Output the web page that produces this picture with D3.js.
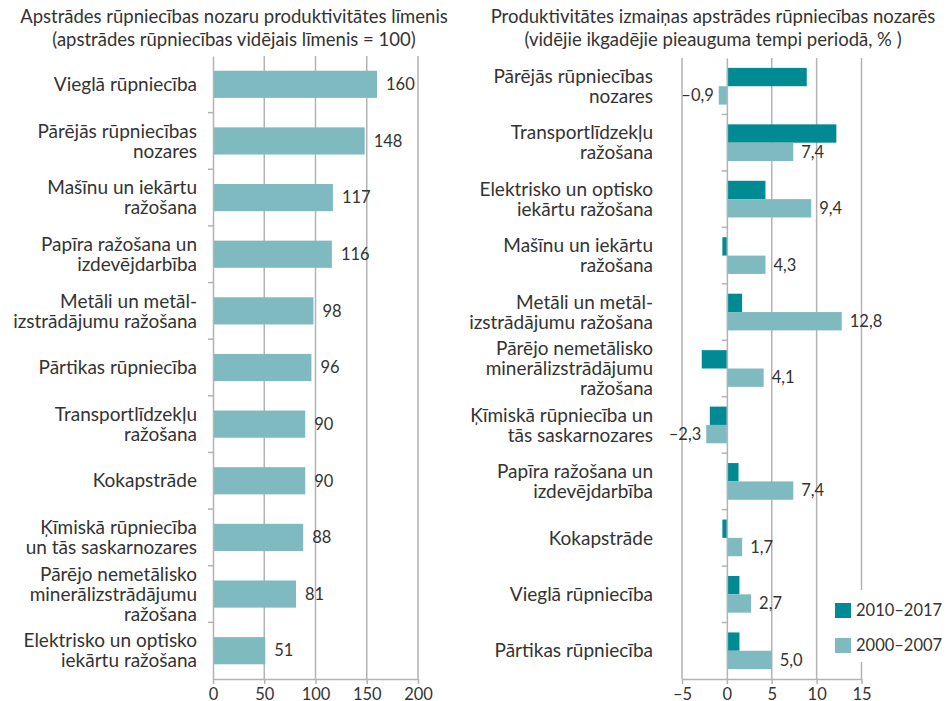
<!DOCTYPE html>
<html>
<head>
	<meta charset="UTF-8">
	<title>Apstrādes rūpniecības produktivitāte</title>
	<script src="https://cdn.jsdelivr.net/npm/d3@7"></script>
	<style>
		body {
			padding: 0;
			margin: 0;
			background: #fff;
		}
		text {
			font-family: Lato, "Noto Sans", sans-serif;
			fill: #333;
		}
	</style>
</head>
<body>
	<script>
		var w = 948,
			h = 701;

		// left chart: productivity level (average = 100)
		var levelCats = ["Vieglā rūpniecība", "Pārējās rūpniecības\nnozares", "Mašīnu un iekārtu\nražošana",
			"Papīra ražošana un\nizdevējdarbība", "Metāli un metāl-\nizstrādājumu ražošana", "Pārtikas rūpniecība",
			"Transportlīdzekļu\nražošana", "Kokapstrāde", "Ķīmiskā rūpniecība\nun tās saskarnozares",
			"Pārējo nemetālisko\nminerālizstrādājumu\nražošana", "Elektrisko un optisko\niekārtu ražošana"];
		var levelValues = [160, 148, 117, 116, 98, 96, 90, 90, 88, 81, 51];
		var levelTicks = [0, 50, 100, 150, 200];

		// right chart: average annual growth, %
		var growthCats = ["Pārējās rūpniecības\nnozares", "Transportlīdzekļu\nražošana", "Elektrisko un optisko\niekārtu ražošana",
			"Mašīnu un iekārtu\nražošana", "Metāli un metāl-\nizstrādājumu ražošana",
			"Pārējo nemetālisko\nminerālizstrādājumu\nražošana", "Ķīmiskā rūpniecība un\ntās saskarnozares",
			"Papīra ražošana un\nizdevējdarbība", "Kokapstrāde", "Vieglā rūpniecība", "Pārtikas rūpniecība"];
		var growth2010 = [8.9, 12.2, 4.3, -0.5, 1.7, -2.8, -1.9, 1.3, -0.5, 1.4, 1.4];
		var growth2000 = [-0.9, 7.4, 9.4, 4.3, 12.8, 4.1, -2.3, 7.4, 1.7, 2.7, 5.0];
		var growthTicks = [-5, 0, 5, 10, 15];
		var seriesNames = ["2010–2017", "2000–2007"];
		var seriesColors = ["#008b94", "#7fbac1"];

		var gridColor = "#b3b3b3";
		var lv = d3.formatLocale({decimal: ",", thousands: " ", grouping: [3], currency: ["", ""], minus: "–"});
		var fmt = lv.format(".1f");

		var svg = d3.select("body").append("svg")
			.attr("width", w)
			.attr("height", h);

		function multiLabel(g, txt, x, y, anchor) {
			var lines = txt.split("\n");
			var t = g.append("text")
				.attr("x", x)
				.attr("text-anchor", anchor)
				.style("font-size", "19px");
			lines.forEach(function (l, i) {
				t.append("tspan")
					.attr("x", x)
					.attr("y", y + (i - (lines.length - 1) / 2) * 20)
					.attr("dy", "0.35em")
					.text(l);
			});
		}

		function title(lines, cx) {
			lines.forEach(function (l, i) {
				svg.append("text")
					.attr("x", cx)
					.attr("y", 23 + i * 23)
					.attr("text-anchor", "middle")
					.style("font-size", "18.5px")
					.text(l);
			});
		}

		function styleAxis(ax) {
			ax.select(".domain").attr("stroke", gridColor).attr("stroke-width", 1.5);
			ax.selectAll(".tick line").attr("stroke", gridColor).attr("stroke-width", 1.5);
			ax.selectAll(".tick text").attr("fill", "#333").attr("y", 9).attr("dy", "0.71em")
				.style("font-size", "16.5px").style("font-family", "Lato, sans-serif");
		}

		// ---------- left chart ----------
		var top1 = 56, bot1 = 679;
		var x1 = d3.scaleLinear().domain([0, 200]).range([213, 418]);
		var y1 = d3.scaleBand().domain(levelCats).range([top1, bot1]).paddingInner(0.52).paddingOuter(0.26);

		title(["Apstrādes rūpniecības nozaru produktivitātes līmenis",
			"(apstrādes rūpniecības vidējais līmenis = 100)"], 234);

		var left = svg.append("g");
		left.selectAll("line.grid").data(levelTicks.slice(1)).enter().append("line")
			.attr("x1", d => x1(d)).attr("x2", d => x1(d))
			.attr("y1", top1).attr("y2", bot1)
			.attr("stroke", gridColor).attr("stroke-width", 1.5);

		left.selectAll("rect").data(levelValues).enter().append("rect")
			.attr("x", x1(0))
			.attr("y", (d, i) => y1(levelCats[i]))
			.attr("width", d => x1(d) - x1(0))
			.attr("height", y1.bandwidth())
			.attr("fill", seriesColors[1]);

		left.selectAll("text.val").data(levelValues).enter().append("text")
			.attr("class", "val")
			.attr("x", d => x1(d) + 9)
			.attr("y", (d, i) => y1(levelCats[i]) + y1.bandwidth() / 2)
			.attr("dy", "0.35em")
			.style("font-size", "16.5px")
			.text(d => d);

		var xAxis1 = left.append("g")
			.attr("transform", "translate(0," + bot1 + ")")
			.call(d3.axisBottom(x1).tickValues(levelTicks).tickSize(5).tickSizeOuter(0));
		styleAxis(xAxis1);

		var yAxis1 = left.append("g")
			.attr("transform", "translate(" + x1(0) + ",0)")
			.call(d3.axisLeft(y1).tickValues([]).tickSizeOuter(0));
		yAxis1.select(".domain").attr("stroke", gridColor).attr("stroke-width", 1.5);
		// band boundary ticks
		left.selectAll("line.bt").data(levelCats.slice(1)).enter().append("line")
			.attr("x1", x1(0) - 5).attr("x2", x1(0))
			.attr("y1", d => y1(d) - y1.step() * 0.26).attr("y2", d => y1(d) - y1.step() * 0.26)
			.attr("stroke", gridColor).attr("stroke-width", 1.5);

		levelCats.forEach(function (c) {
			multiLabel(left, c, 197, y1(c) + y1.bandwidth() / 2, "end");
		});

		// ---------- right chart ----------
		var top2 = 58, bot2 = 679;
		var x2 = d3.scaleLinear().domain([-5, 15]).range([682, 861.5]);
		var y2 = d3.scaleBand().domain(growthCats).range([top2, bot2]).paddingInner(0.35).paddingOuter(0.175);
		var ySub = d3.scaleBand().domain(seriesNames).range([0, y2.bandwidth()]);

		title(["Produktivitātes izmaiņas apstrādes rūpniecības nozarēs",
			"(vidējie ikgadējie pieauguma tempi periodā, % )"], 713);

		var right = svg.append("g");
		right.selectAll("line.grid").data(growthTicks.filter(d => d !== 0)).enter().append("line")
			.attr("x1", d => x2(d)).attr("x2", d => x2(d))
			.attr("y1", top2).attr("y2", bot2)
			.attr("stroke", gridColor).attr("stroke-width", 1.5);

		var allSeries = [growth2010, growth2000];
		allSeries.forEach(function (vals, s) {
			right.selectAll("rect.s" + s).data(vals).enter().append("rect")
				.attr("class", "s" + s)
				.attr("x", d => x2(Math.min(0, d)))
				.attr("y", (d, i) => y2(growthCats[i]) + ySub(seriesNames[s]))
				.attr("width", d => Math.abs(x2(d) - x2(0)))
				.attr("height", ySub.bandwidth())
				.attr("fill", seriesColors[s]);
		});

		right.selectAll("text.val").data(growth2000).enter().append("text")
			.attr("class", "val")
			.attr("x", d => d < 0 ? x2(d) - 5 : x2(d) + 8)
			.attr("y", (d, i) => y2(growthCats[i]) + ySub(seriesNames[1]) + ySub.bandwidth() / 2)
			.attr("dy", "0.35em")
			.attr("text-anchor", d => d < 0 ? "end" : "start")
			.style("font-size", "16.5px")
			.text(d => fmt(d));

		var xAxis2 = right.append("g")
			.attr("transform", "translate(0," + bot2 + ")")
			.call(d3.axisBottom(x2).tickValues(growthTicks).tickSize(5).tickSizeOuter(0).tickFormat(d => lv.format("d")(d)));
		styleAxis(xAxis2);

		var yAxis2 = right.append("g")
			.attr("transform", "translate(" + x2(0) + ",0)")
			.call(d3.axisLeft(y2).tickValues([]).tickSizeOuter(0));
		yAxis2.select(".domain").attr("stroke", gridColor).attr("stroke-width", 1.5);
		right.selectAll("line.bt").data(growthCats.slice(1)).enter().append("line")
			.attr("x1", x2(0) - 5).attr("x2", x2(0))
			.attr("y1", d => y2(d) - y2.step() * 0.175).attr("y2", d => y2(d) - y2.step() * 0.175)
			.attr("stroke", gridColor).attr("stroke-width", 1.5);

		growthCats.forEach(function (c) {
			multiLabel(right, c, 653, y2(c) + y2.bandwidth() / 2, "end");
		});

		// legend
		var legend = svg.append("g").attr("transform", "translate(830,590)");
		legend.append("rect").attr("width", 118).attr("height", 72).attr("fill", "#fff");
		seriesNames.forEach(function (n, i) {
			var g = legend.append("g").attr("transform", "translate(5," + (13 + i * 35) + ")");
			g.append("rect").attr("width", 16).attr("height", 15).attr("fill", seriesColors[i]);
			g.append("text").attr("x", 21).attr("y", 7.5).attr("dy", "0.35em")
				.style("font-size", "16.5px").text(n);
		});
	</script>
</body>
</html>
